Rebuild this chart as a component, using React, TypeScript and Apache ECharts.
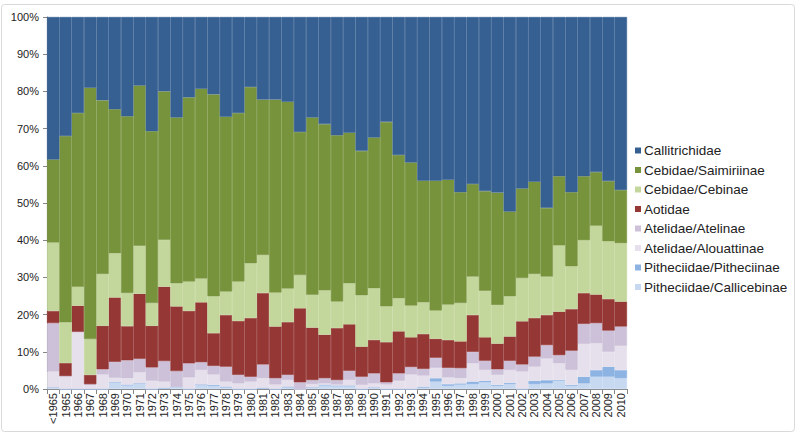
import React, { useEffect, useRef } from "react";
import * as echarts from "echarts";

const categories = ["<1965","1965","1966","1967","1968","1969","1970","1971","1972","1973","1974","1975","1976","1977","1978","1979","1980","1981","1982","1983","1984","1985","1986","1987","1988","1989","1990","1991","1992","1993","1994","1995","1996","1997","1998","1999","2000","2001","2002","2003","2004","2005","2006","2007","2008","2009","2010"];

const callicebinae = [0.4,0,0,0,0,1.8,1.1,1.5,0,0.3,0.6,0,1.2,0.8,0.5,0,0,0.3,0,0.6,0,0.4,1.1,0.9,0.9,0,0.4,0,0,0,0.4,2.0,0.8,1.2,1.3,1.8,0.8,1.3,0,1.3,1.5,2.2,0.8,1.5,3.3,3.3,2.9];
const pitheciinae = [0,0,0,0,0,0,0,0,0,0,0,0,0,0.3,0.1,0,0,0,0,0,0,0,0,0,0,0,0,0,0,0,0.2,0.9,0.5,0.3,0.7,0.4,0.3,0.4,0,0.9,0.9,0.2,0.3,1.8,1.8,2.7,2.2];
const alouattinae = [4.3,3.5,15.4,1.3,3.9,1.2,1.8,3.0,2.2,1.7,0,3.1,3.9,2.8,1.4,1.5,2.0,2.6,1.2,1.8,0,0.9,0.4,0.3,1.5,1.1,1.1,1.2,2.2,3.9,3.0,2.8,1.8,1.4,4.9,2.9,2.7,3.4,4.7,3.8,5.8,4.5,4.0,8.8,7.2,4.0,6.5];
const atelinae = [13.0,0,0,0,1.4,4.3,4.8,3.6,3.6,5.5,4.2,3.8,2.1,2.3,4.0,2.3,1.3,3.7,1.7,1.4,1.8,1.1,1.4,1.2,2.5,2.2,2.7,0.6,2.0,2.0,1.8,2.7,2.6,2.7,3.1,2.5,1.5,2.5,1.9,2.7,3.6,2.2,5.2,5.4,5.4,5.7,5.2];
const aotidae = [3.3,3.5,7.0,2.5,11.7,17.3,9.2,17.5,11.2,20.0,17.4,14.1,16.1,8.8,13.9,14.5,15.8,19.2,13.9,14.2,19.9,14.1,11.7,14.0,12.5,8.1,9.0,10.8,11.3,8.0,9.4,5.1,7.5,7.2,9.9,6.3,6.9,6.5,11.6,10.4,8.1,11.7,11.2,8.3,7.7,8.5,6.7];
const cebinae = [18.4,10.9,5.1,9.6,13.9,11.9,8.9,12.9,6.1,12.6,6.2,7.9,6.4,9.9,6.3,10.6,14.7,10.2,9.1,9.0,8.9,8.8,11.9,7.1,11.0,13.8,13.9,9.6,8.9,8.5,8.5,7.6,9.5,10.3,10.3,12.5,10.4,10.8,11.6,11.8,10.3,17.8,11.5,14.2,18.5,15.5,15.7];
const saimiriinae = [22.3,50.1,46.7,67.6,46.7,38.7,47.5,43.1,46.2,39.9,44.6,49.5,51.0,54.3,47.0,45.3,47.4,41.8,51.9,50.2,38.5,47.7,44.7,44.7,40.5,38.8,40.5,49.6,38.5,38.5,32.7,34.9,33.6,29.8,24.9,26.8,30.2,22.8,24.1,24.8,18.5,18.6,19.9,17.2,14.4,16.2,14.3];
const callitrichidae = [38.3,32.0,25.8,19.0,22.4,24.8,26.7,18.4,30.7,20.0,27.0,21.6,19.3,20.8,26.8,25.8,18.8,22.2,22.2,22.8,30.9,27.0,28.8,31.8,31.1,36.0,32.4,28.2,37.1,39.1,44.0,44.0,43.8,47.1,44.9,46.8,47.2,52.3,46.1,44.3,51.3,42.8,47.1,42.8,41.7,44.1,46.5];

const yTicks = [0, 10, 20, 30, 40, 50, 60, 70, 80, 90, 100];

// bottom-to-top stacking order
const seriesDefs = [
  { name: "Pitheciidae/Callicebinae", data: callicebinae, color: "#c6d9f1" },
  { name: "Pitheciidae/Pitheciinae", data: pitheciinae, color: "#8db3e2" },
  { name: "Atelidae/Alouattinae", data: alouattinae, color: "#e5e0ec" },
  { name: "Atelidae/Atelinae", data: atelinae, color: "#ccc1d9" },
  { name: "Aotidae", data: aotidae, color: "#953735" },
  { name: "Cebidae/Cebinae", data: cebinae, color: "#c3d69b" },
  { name: "Cebidae/Saimiriinae", data: saimiriinae, color: "#77933c" },
  { name: "Callitrichidae", data: callitrichidae, color: "#366092" },
];

export default function App() {
  const ref = useRef<HTMLDivElement>(null);
  useEffect(() => {
    document.body.style.margin = "0";
    const chart = echarts.init(ref.current!, null, { renderer: "svg" });
    const totals = categories.map((_, i) =>
      seriesDefs.reduce((s, d) => s + d.data[i], 0)
    );
    const font = "Liberation Sans, Arial, sans-serif";
    chart.setOption({
      animation: false,
      backgroundColor: "#ffffff",
      graphic: [
        {
          type: "rect",
          shape: { x: 1.5, y: 4.5, width: 793, height: 427, r: 3 },
          style: { fill: "none", stroke: "#d9d9d9", lineWidth: 1 },
          silent: true,
          z: -1,
        },
      ],
      grid: { left: 47, right: 173, top: 17, bottom: 48, containLabel: false },
      legend: {
        orient: "vertical",
        left: 630,
        top: 138,
        itemWidth: 6,
        itemHeight: 6,
        itemGap: 4.5,
        icon: "rect",
        data: seriesDefs.map((d) => d.name).reverse(),
        itemStyle: { borderWidth: 0 },
        textStyle: { fontFamily: font, fontSize: 13.5, color: "#222", lineHeight: 15, padding: [0, 0, 0, -2] },
      },
      xAxis: {
        type: "category",
        data: categories,
        boundaryGap: true,
        axisLine: { lineStyle: { color: "#868686" } },
        axisTick: { show: true, length: 5, lineStyle: { color: "#868686" } },
        axisLabel: {
          rotate: 90,
          interval: 0,
          margin: 4,
          fontFamily: font,
          fontSize: 11,
          color: "#222",
        },
        splitLine: { show: false },
      },
      yAxis: {
        type: "value",
        min: yTicks[0],
        max: yTicks[yTicks.length - 1],
        interval: 10,
        axisLine: { show: true, lineStyle: { color: "#868686" } },
        axisTick: { show: true, length: 4, lineStyle: { color: "#868686" } },
        axisLabel: {
          formatter: "{value}%",
          fontFamily: font,
          fontSize: 11,
          color: "#222",
          margin: 8,
        },
        splitLine: { show: false },
      },
      series: seriesDefs.map((d) => ({
        name: d.name,
        type: "bar",
        stack: "total",
        barCategoryGap: 0,
        barGap: 0,
        itemStyle: { color: d.color, borderColor: d.color, borderWidth: 0.6 },
        emphasis: { disabled: true },
        data: d.data.map((v, i) => (v * 100) / totals[i]),
      })),
    });
    return () => chart.dispose();
  }, []);
  return <div ref={ref} style={{ width: 800, height: 437 }} />;
}
